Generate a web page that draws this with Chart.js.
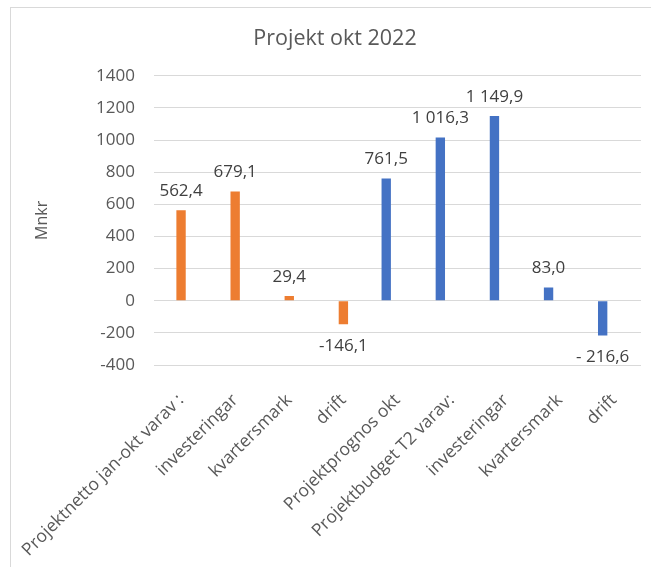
<!DOCTYPE html>
<html>
<head>
<meta charset="utf-8">
<script src="https://cdn.jsdelivr.net/npm/chart.js@4"></script>
<style>
  html, body { margin: 0; padding: 0; background: #ffffff; }
  #wrap { position: relative; width: 651px; height: 567px; overflow: hidden; }
  #frame { position: absolute; left: 10px; top: 7px; width: 700px; height: 700px;
           border-left: 1px solid #d9d9d9; border-top: 1px solid #d9d9d9; pointer-events: none; }
  canvas { position: absolute; left: 0; top: 0; }
</style>
</head>
<body>
<div id="wrap">
  <canvas id="c" width="651" height="567"></canvas>
  <div id="frame"></div>
</div>
<script>
const categories = [
  'Projektnetto jan-okt varav :',
  'investeringar',
  'kvartersmark',
  'drift',
  'Projektprognos okt',
  'Projektbudget T2 varav:',
  'investeringar',
  'kvartersmark',
  'drift'
];
const blueValues   = [null, null, null, null, 761.5, 1016.3, 1149.9, 83.0, -216.6];
const orangeValues = [562.4, 679.1, 29.4, -146.1, null, null, null, null, null];
const emptyValues  = [null, null, null, null, null, null, null, null, null];
const dataLabels   = ['562,4', '679,1', '29,4', '-146,1', '761,5', '1 016,3', '1 149,9', '83,0', '- 216,6'];
const yTicks = { min: -400, max: 1400, step: 200 };

const FONT = '"Open Sans", "DejaVu Sans", sans-serif';

const labelPlugin = {
  id: 'valueLabels',
  afterDatasetsDraw(chart) {
    const ctx = chart.ctx;
    ctx.save();
    ctx.font = '17px ' + FONT;
    ctx.fillStyle = '#404040';
    ctx.textAlign = 'center';
    ctx.textBaseline = 'middle';
    chart.data.datasets.forEach((ds, di) => {
      const meta = chart.getDatasetMeta(di);
      meta.data.forEach((el, i) => {
        const v = ds.data[i];
        if (v === null || v === undefined) return;
        const y = v >= 0 ? el.y - 19 : el.y + 22;
        ctx.fillText(dataLabels[i], el.x, y);
      });
    });
    ctx.restore();
  }
};

const barOpts = { categoryPercentage: 0.625, barPercentage: 0.83 };

new Chart(document.getElementById('c'), {
  type: 'bar',
  data: {
    labels: categories,
    datasets: [
      Object.assign({ data: blueValues, backgroundColor: '#4472C4' }, barOpts),
      Object.assign({ data: orangeValues, backgroundColor: '#ED7D31' }, barOpts),
      Object.assign({ data: emptyValues, backgroundColor: '#A5A5A5' }, barOpts)
    ]
  },
  options: {
    responsive: false,
    animation: false,
    devicePixelRatio: 1,
    layout: { padding: { left: 29, right: 10, top: 0, bottom: 0 } },
    plugins: {
      legend: { display: false },
      tooltip: { enabled: false },
      title: {
        display: true,
        text: 'Projekt okt 2022',
        color: '#595959',
        font: { family: FONT, size: 21.5, weight: 'normal', lineHeight: 1.2 },
        padding: { top: 26, bottom: 24 }
      }
    },
    scales: {
      x: {
        grid: { display: false, drawTicks: false },
        border: { display: false },
        ticks: {
          color: '#595959',
          font: { family: FONT, size: 17.5 },
          minRotation: 45, maxRotation: 45,
          autoSkip: false,
          padding: 25
        },
        afterFit(scale) {
          scale.height = 567 - 365;
          scale.paddingLeft = 0;
          scale.paddingRight = 0;
        }
      },
      y: {
        min: yTicks.min, max: yTicks.max,
        grid: { color: '#d9d9d9', drawTicks: false, lineWidth: 1 },
        border: { display: false },
        ticks: {
          stepSize: yTicks.step,
          color: '#595959',
          font: { family: FONT, size: 17 },
          padding: 19,
          callback: (v) => String(v)
        },
        title: {
          display: true,
          text: 'Mnkr',
          color: '#595959',
          font: { family: FONT, size: 16 },
          padding: { top: 4, bottom: 0 }
        },
        afterFit(scale) { scale.width = 154 - 29; }
      }
    }
  },
  plugins: [labelPlugin]
});
</script>
</body>
</html>
